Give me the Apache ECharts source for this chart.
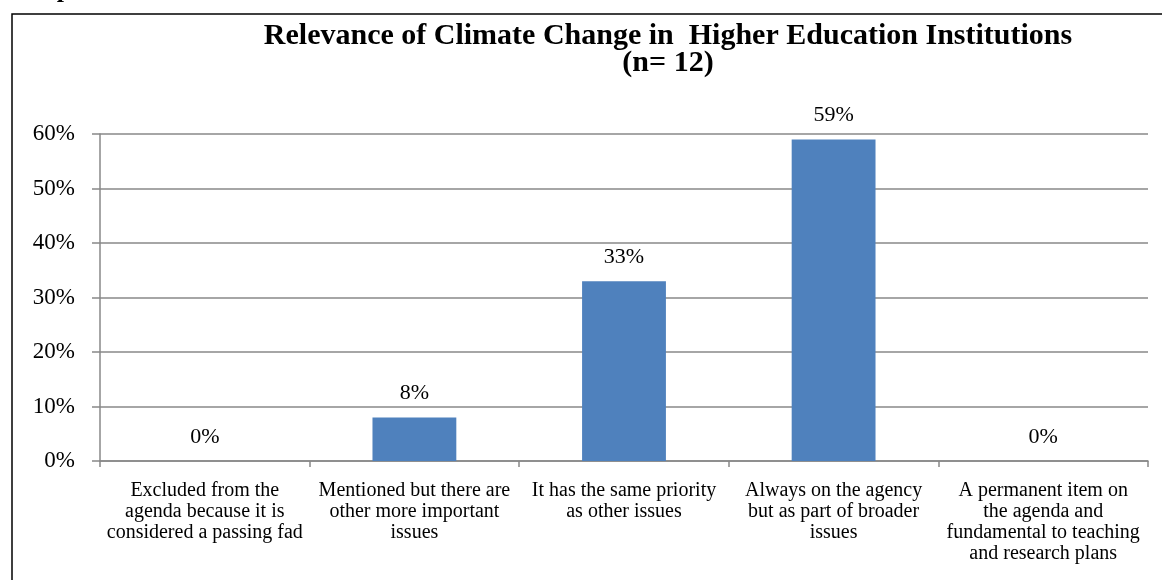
<!DOCTYPE html>
<html><head><meta charset="utf-8">
<script src="https://cdn.jsdelivr.net/npm/echarts@6/dist/echarts.min.js"></script>
<style>html,body{margin:0;padding:0;background:#fff}#c{width:1162px;height:580px}</style>
</head><body><div id="c"></div>
<script>
const categories = [
  "Excluded from the\nagenda because it is\nconsidered a passing fad",
  "Mentioned but there are\nother more important\nissues",
  "It has the same priority\nas other issues",
  "Always on the agency\nbut as part of broader\nissues",
  "A permanent item on\nthe agenda and\nfundamental to teaching\nand research plans"
];
const values = [0, 8, 33, 59, 0];
const yTicks = [0, 10, 20, 30, 40, 50, 60];
const titleLines = ["Relevance of Climate Change in  Higher Education Institutions", "(n= 12)"];
const caption = "Graph 3.5.2";

const font = "'Liberation Serif','Times New Roman',serif";
const chart = echarts.init(document.getElementById('c'));
chart.setOption({
  animation: false,
  textStyle: {fontFamily: font},
  graphic: [
    {type: 'rect', shape: {x: 12, y: 14, width: 1170, height: 600}, style: {fill: 'none', stroke: '#000', lineWidth: 1.5}},
    {type: 'text', left: 12, top: -23, style: {text: caption, font: "bold 26px " + font, fill: '#000'}}
  ],
  title: {
    text: titleLines.join('\n'),
    left: 663, textAlign: 'center', top: 18,
    textStyle: {fontFamily: font, fontWeight: 'bold', fontSize: 30, color: '#000', lineHeight: 27}
  },
  grid: {left: 100, right: 14, top: 134, bottom: 119, containLabel: false},
  xAxis: {
    type: 'category', data: categories,
    axisLine: {lineStyle: {color: '#888', width: 1.5}},
    axisTick: {show: true, alignWithLabel: false, length: 6, lineStyle: {color: '#888', width: 1.5}},
    axisLabel: {interval: 0, margin: 19, fontFamily: font, fontSize: 20, color: '#000', lineHeight: 21}
  },
  yAxis: {
    type: 'value', min: 0, max: 60, interval: 10,
    axisLine: {show: true, lineStyle: {color: '#888', width: 1.5}},
    axisTick: {show: true, length: 8, lineStyle: {color: '#888', width: 1.5}},
    splitLine: {lineStyle: {color: '#888', width: 1.5}},
    axisLabel: {formatter: v => yTicks.includes(v) ? v + '%' : '', margin: 25, fontFamily: font, fontSize: 23, color: '#000'}
  },
  series: [{
    type: 'bar', data: values, barWidth: '40%',
    itemStyle: {color: '#4F81BD'},
    label: {show: true, position: 'top', distance: 13, formatter: p => p.value + '%', fontFamily: font, fontSize: 22, color: '#000'}
  }]
});
</script></body></html>
